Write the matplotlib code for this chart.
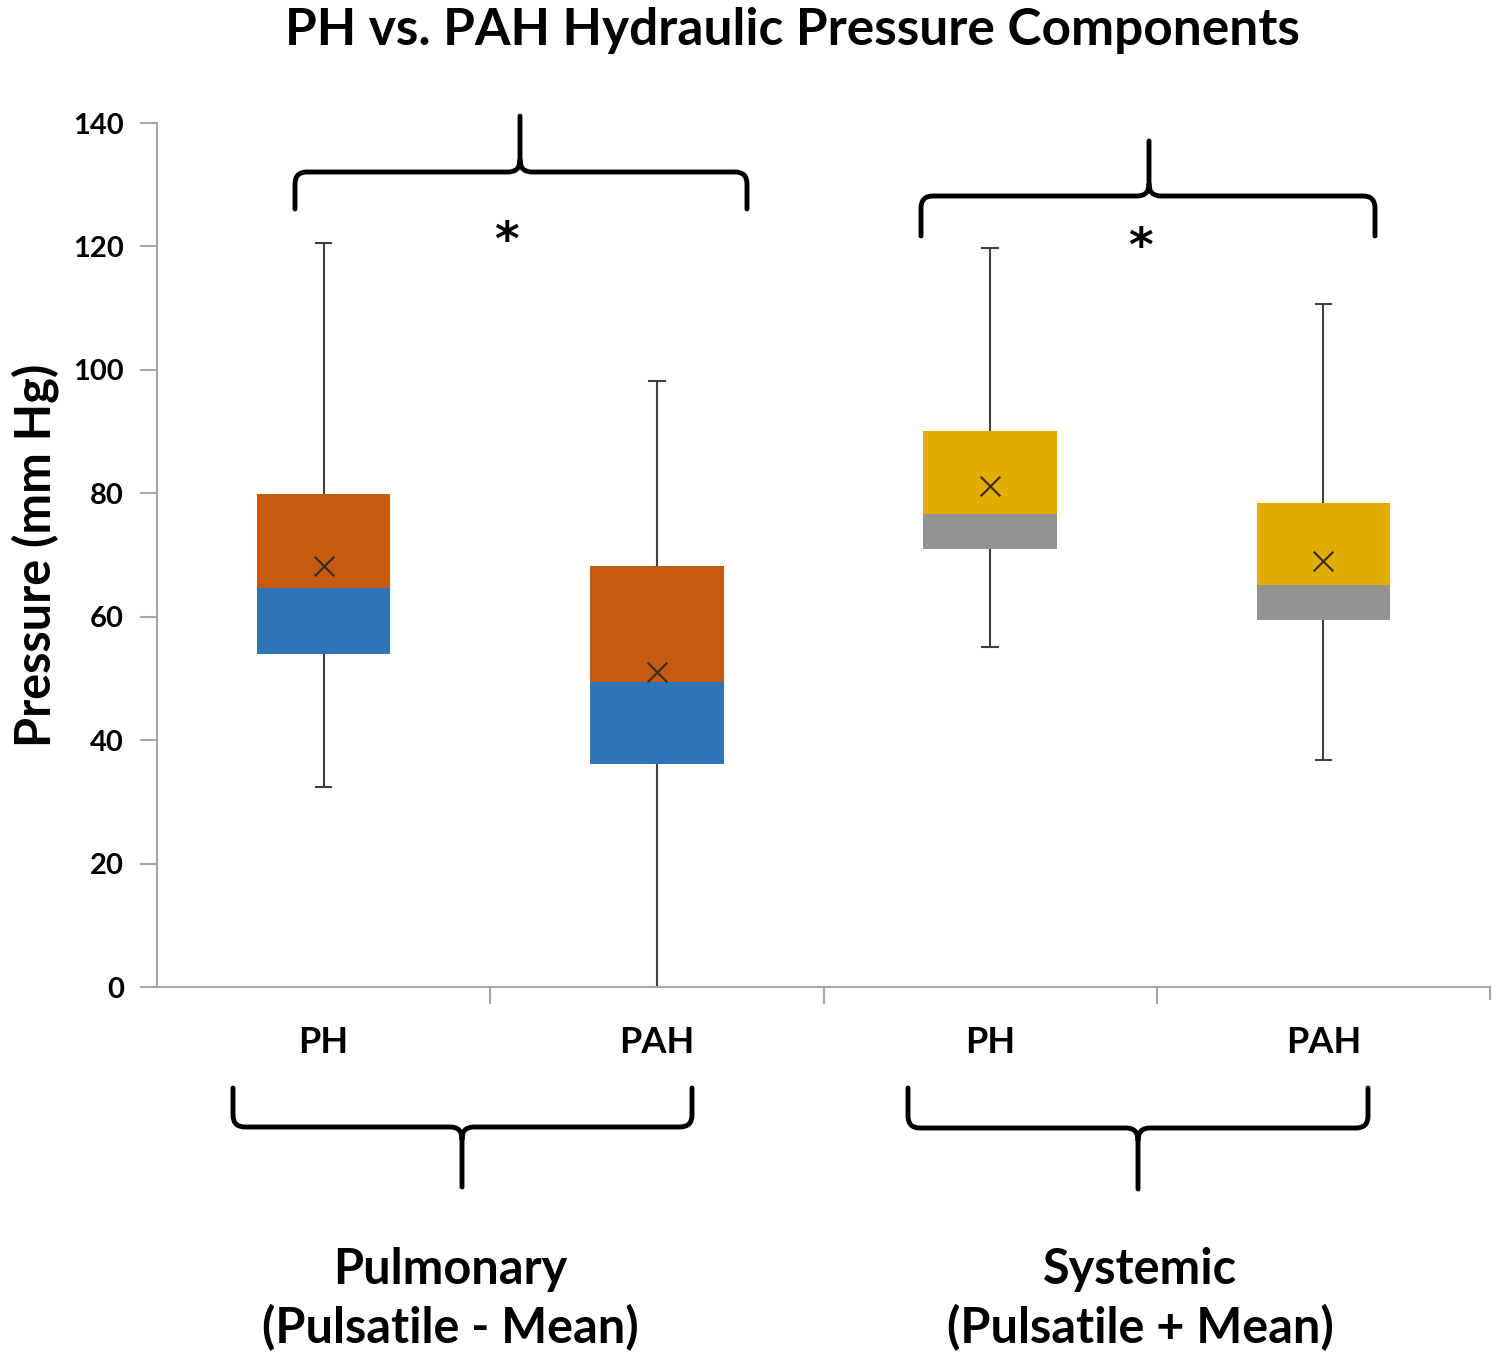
import matplotlib
matplotlib.use('Agg')
import matplotlib.pyplot as plt
from matplotlib.path import Path
from matplotlib.patches import PathPatch

# data (mm Hg)
groups = ["PH", "PAH", "PH", "PAH"]
q1 = [54.0, 36.1, 71.0, 59.5]
median = [64.7, 49.4, 76.6, 65.1]
q3 = [79.9, 68.2, 90.1, 78.4]
whisk_lo = [32.4, 0.0, 55.1, 36.8]
whisk_hi = [120.6, 98.2, 119.8, 110.7]
means = [68.2, 51.0, 81.2, 69.0]

lower_colors = ["#2E75B6", "#2E75B6", "#939393", "#939393"]
upper_colors = ["#C55A11", "#C55A11", "#E2AC00", "#E2AC00"]

plt.rcParams['font.family'] = ['Lato', 'DejaVu Sans']
plt.rcParams['font.weight'] = 'bold'

W, H = 1500, 1363
fig = plt.figure(figsize=(W / 100, H / 100), dpi=100)
ax = fig.add_axes([157 / W, 1 - 987 / H, (1490 - 157) / W, (987 - 123) / H])

x = list(range(len(groups)))
bw = 0.4
for i in x:
    # whiskers behind boxes
    ax.plot([i, i], [whisk_lo[i], whisk_hi[i]], color="#404040", lw=1.5, zorder=1)
    for v in (whisk_lo[i], whisk_hi[i]):
        ax.plot([i - 0.023, i + 0.023], [v, v], color="#404040", lw=1.5, zorder=1)
ax.bar(x, [m - a for m, a in zip(median, q1)], bottom=q1, width=bw,
       color=lower_colors, zorder=2)
ax.bar(x, [b - m for b, m in zip(q3, median)], bottom=median, width=bw,
       color=upper_colors, zorder=2)
ax.scatter(x, means, marker='x', s=200, color="#3a2a20", linewidths=1.5, zorder=3)

ax.set_xlim(-0.5, 3.5)
ax.set_ylim(0, 140)
ax.set_yticks(range(0, 141, 20))
ax.set_xticks([0.5, 1.5, 2.5])
ax.set_xticks(x, minor=True)
ax.set_xticklabels([])
ax.set_xticklabels(groups, minor=True, fontsize=26, fontweight='bold')
ax.tick_params(axis='x', which='major', length=12, width=1.5, color="#a6a6a6")
ax.tick_params(axis='x', which='minor', length=0, pad=28)
ax.tick_params(axis='y', length=12, width=1.5, color="#a6a6a6", labelsize=21, pad=12)
for lab in ax.get_yticklabels():
    lab.set_fontweight('bold')
for s in ('top', 'right'):
    ax.spines[s].set_visible(False)
for s in ('left', 'bottom'):
    ax.spines[s].set_color("#a6a6a6")
    ax.spines[s].set_linewidth(1.5)
ax.set_ylabel("Pressure (mm Hg)", fontsize=35, fontweight='bold', labelpad=10)

# end tick on right of x axis
ax.plot([3.5, 3.5], [0, -2], color="#a6a6a6", lw=1.5, clip_on=False)

fig.text(792 / W, 1 - 30 / H, "PH vs. PAH Hydraulic Pressure Components",
         ha='center', va='center', fontsize=37, fontweight='bold')


def brace(x0, x1, xc, y_line, y_end, y_tip, r=12):
    # coordinates in figure pixels, y measured from top
    def p(px, py):
        return (px / W, 1 - py / H)
    d = 1 if y_end > y_line else -1
    verts = [p(x0, y_end), p(x0, y_line + d * r), p(x0, y_line), p(x0 + r, y_line),
             p(xc - r, y_line), p(xc, y_line), p(xc, y_line - d * r), p(xc, y_tip),
             p(xc, y_line - d * r), p(xc, y_line), p(xc + r, y_line),
             p(x1 - r, y_line), p(x1, y_line), p(x1, y_line + d * r), p(x1, y_end)]
    codes = [Path.MOVETO, Path.LINETO, Path.CURVE3, Path.CURVE3,
             Path.LINETO, Path.CURVE3, Path.CURVE3, Path.LINETO,
             Path.MOVETO, Path.CURVE3, Path.CURVE3,
             Path.LINETO, Path.CURVE3, Path.CURVE3, Path.LINETO]
    fig.add_artist(PathPatch(Path(verts, codes), transform=fig.transFigure,
                             fill=False, lw=3.5, edgecolor='black',
                             capstyle='round', joinstyle='round'))


brace(295, 747, 520, 172, 209, 116)
brace(921, 1375, 1149, 196, 236, 141)
brace(233, 692, 462, 1127, 1088, 1187)
brace(908, 1368, 1138, 1128, 1088, 1189)

fig.text(506 / W, 1 - 242 / H, "*", ha='center', va='center', fontsize=34,
         fontweight='bold', family='DejaVu Sans')
fig.text(1140 / W, 1 - 248 / H, "*", ha='center', va='center', fontsize=34,
         fontweight='bold', family='DejaVu Sans')

fig.text(450 / W, 1 - 1299 / H, "Pulmonary\n(Pulsatile - Mean)", ha='center', va='center',
         fontsize=35, fontweight='bold', linespacing=1.3)
fig.text(1140 / W, 1 - 1299 / H, "Systemic\n(Pulsatile + Mean)", ha='center', va='center',
         fontsize=35, fontweight='bold', linespacing=1.3)

fig.savefig("out.png", dpi=100)
